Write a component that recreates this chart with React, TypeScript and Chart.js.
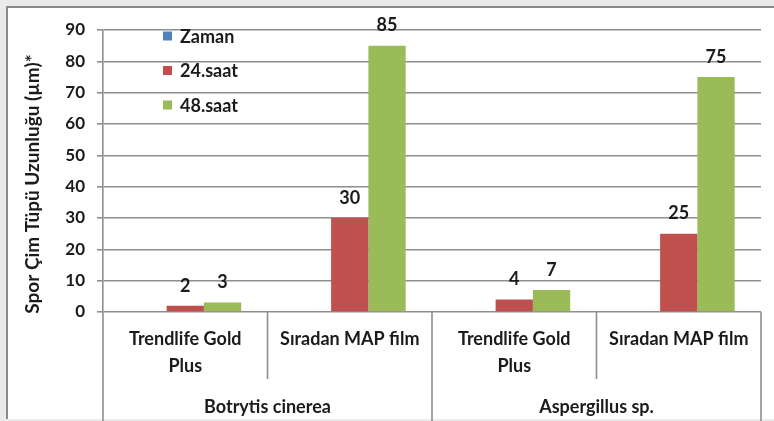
import React, { useEffect, useRef } from "react";
import { Chart, registerables } from "chart.js";

Chart.register(...registerables);

const categories: string[][] = [
  ["Trendlife Gold", "Plus"],
  ["Sıradan MAP film"],
  ["Trendlife Gold", "Plus"],
  ["Sıradan MAP film"],
];
const groups = ["Botrytis cinerea", "Aspergillus sp."];
const seriesNames = ["Zaman", "24.saat", "48.saat"];
const zaman: (number | null)[] = [null, null, null, null];
const saat24 = [2, 30, 4, 25];
const saat48 = [3, 85, 7, 75];
const yTicks = [0, 10, 20, 30, 40, 50, 60, 70, 80, 90];
const yTitle = "Spor Çim Tüpü Uzunluğu (µm)*";
const colors = ["#4f81bd", "#c0504d", "#9bbb59"];

const FONT = "Lato, 'Open Sans', sans-serif";
const TEXT = "#1b1b1b";
const GRID = "#8e8e8e";

const overlayPlugin = {
  id: "overlay",
  afterDraw(chart: any) {
    const ctx = chart.ctx;
    const x = chart.scales.x;
    const ca = chart.chartArea;
    ctx.save();
    // separators
    const n = x.ticks.length;
    const step = n > 1 ? x.getPixelForTick(1) - x.getPixelForTick(0) : 0;
    const bounds: number[] = [];
    for (let i = 0; i <= n; i++) bounds.push(x.getPixelForTick(0) - step / 2 + i * step);
    ctx.strokeStyle = GRID;
    ctx.lineWidth = 1.6;
    bounds.forEach((b, i) => {
      const isGroup = i % 2 === 0;
      ctx.beginPath();
      ctx.moveTo(b, ca.bottom);
      ctx.lineTo(b, isGroup ? chart.height : x.bottom);
      ctx.stroke();
    });
    // data labels
    ctx.fillStyle = TEXT;
    ctx.font = `bold 18px ${FONT}`;
    ctx.textAlign = "center";
    ctx.textBaseline = "bottom";
    chart.data.datasets.forEach((ds: any, di: number) => {
      const meta = chart.getDatasetMeta(di);
      meta.data.forEach((bar: any, i: number) => {
        const v = ds.data[i];
        if (v === null || v === undefined) return;
        ctx.fillText(String(v), bar.x, bar.y - 11);
      });
    });
    // legend
    ctx.textAlign = "left";
    ctx.textBaseline = "middle";
    const lx = ca.left + 60;
    const ly0 = ca.top + 6;
    seriesNames.forEach((name, i) => {
      const cy = ly0 + i * 34.5;
      ctx.fillStyle = colors[i];
      ctx.fillRect(lx, cy - 4.5, 9, 9);
      ctx.fillStyle = TEXT;
      ctx.fillText(name, lx + 17, cy + 1);
    });
    // y axis title
    ctx.save();
    ctx.translate(33, (ca.top + ca.bottom) / 2 + 13);
    ctx.rotate(-Math.PI / 2);
    ctx.textAlign = "center";
    ctx.textBaseline = "middle";
    ctx.font = `bold 19px ${FONT}`;
    ctx.fillText(yTitle, 0, 0);
    ctx.restore();
    ctx.restore();
  },
};

export default function App() {
  const ref = useRef<HTMLCanvasElement>(null);
  useEffect(() => {
    if (!ref.current) return;
    const chart = new Chart(ref.current, {
      type: "bar",
      data: {
        labels: categories as any,
        datasets: [
          { label: seriesNames[0], data: zaman, backgroundColor: colors[0] },
          { label: seriesNames[1], data: saat24, backgroundColor: colors[1] },
          { label: seriesNames[2], data: saat48, backgroundColor: colors[2] },
        ],
      },
      options: {
        responsive: false,
        animation: false,
        layout: { padding: { left: 0, top: 30, right: 13, bottom: 0 } },
        plugins: { legend: { display: false }, tooltip: { enabled: false } },
        datasets: { bar: { categoryPercentage: 0.68, barPercentage: 1 } },
        scales: {
          x: {
            type: "category",
            position: "bottom",
            weight: 0,
            grid: { display: false, drawTicks: false, tickLength: 0 },
            border: { display: false },
            ticks: {
              color: TEXT,
              font: { family: FONT, size: 18, weight: "bold", lineHeight: 1.5 },
              padding: 13.5,
              maxRotation: 0,
              autoSkip: false,
            },
            afterFit: (s: any) => { s.height = 67; },
          },
          x2: {
            type: "category",
            labels: groups,
            position: "bottom",
            weight: 1,
            offset: true,
            grid: { display: false, drawTicks: false, tickLength: 0 },
            border: { display: false },
            ticks: {
              color: TEXT,
              font: { family: FONT, size: 18, weight: "bold" },
              padding: 17,
              maxRotation: 0,
            },
            afterFit: (s: any) => { s.height = 42; },
          },
          y: {
            min: 0,
            max: 90,
            afterBuildTicks: (s: any) => { s.ticks = yTicks.map((v) => ({ value: v })); },
            grid: { color: GRID, lineWidth: 1.6, tickLength: 6 },
            border: { display: true, color: GRID, width: 1.6 },
            ticks: {
              color: TEXT,
              font: { family: FONT, size: 17, weight: "bold" },
              padding: 12,
            },
            afterFit: (s: any) => { s.width = 103; },
          },
        },
      } as any,
      plugins: [overlayPlugin],
    });
    return () => chart.destroy();
  }, []);

  return (
    <div style={{ position: "fixed", left: 0, top: 0, width: 774, height: 421, background: "#e9ebeb", overflow: "hidden" }}>
      <div
        style={{
          position: "absolute",
          left: 6,
          top: 6,
          right: 0,
          bottom: 2,
          background: "#ffffff",
          borderLeft: "2px solid #8a8a8a",
          borderTop: "2px solid #8a8a8a",
        }}
      />
      <canvas ref={ref} width={774} height={421} style={{ position: "absolute", left: 0, top: 0 }} />
    </div>
  );
}
